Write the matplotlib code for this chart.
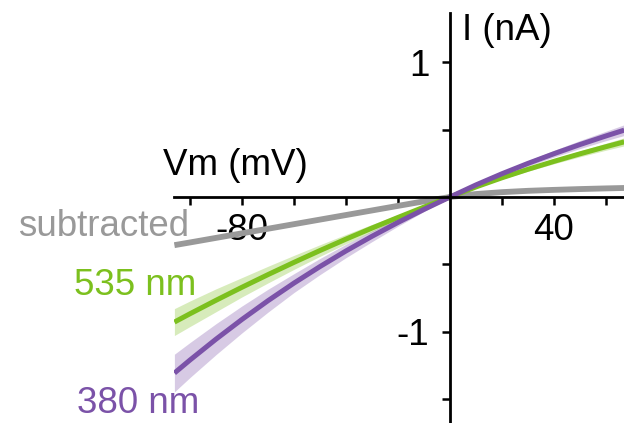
import matplotlib
matplotlib.use('Agg')
import matplotlib.pyplot as plt
import numpy as np

plt.rcParams['font.family'] = ['Liberation Sans', 'DejaVu Sans']

# --- dados ---
vm = [-106, -100, -90, -80, -70, -60, -50, -40, -30, -20, -10, 0,
      10, 20, 30, 40, 50, 60, 67]

i_380 = [-1.309, -1.212, -1.057, -0.910, -0.771, -0.640, -0.517, -0.401, -0.292, -0.189, -0.092, 0.0,
         0.090, 0.173, 0.250, 0.322, 0.390, 0.454, 0.497]
sem_380 = [0.14, 0.13, 0.115, 0.10, 0.085, 0.07, 0.06, 0.05, 0.04, 0.028, 0.016, 0.005,
           0.01, 0.015, 0.02, 0.025, 0.03, 0.035, 0.04]

i_535 = [-0.930, -0.868, -0.768, -0.671, -0.577, -0.486, -0.398, -0.313, -0.231, -0.152, -0.075, 0.0,
         0.075, 0.143, 0.206, 0.265, 0.321, 0.374, 0.410]
sem_535 = [0.10, 0.095, 0.085, 0.072, 0.062, 0.052, 0.043, 0.035, 0.027, 0.02, 0.012, 0.005,
           0.008, 0.01, 0.014, 0.018, 0.022, 0.026, 0.03]

i_sub = [-0.358, -0.338, -0.304, -0.270, -0.236, -0.202, -0.168, -0.134, -0.100, -0.066, -0.032, 0.0,
         0.022, 0.036, 0.046, 0.053, 0.059, 0.064, 0.067]

xticks = [-100, -80, -60, -40, -20, 20, 40, 60]
xticklabels = ['', '-80', '', '', '', '', '40', '']
yticks = [-1.5, -1, -0.5, 0.5, 1]
yticklabels = ['', '-1', '', '', '1']

VERDE = '#7cc01e'
ROXO = '#7b52a8'
CINZA = '#999999'
FS = 26.5

W, H = 624, 423
fig = plt.figure(figsize=(W / 100, H / 100), dpi=100)
ax = fig.add_axes([174 / W, 0, 450 / W, 1 - 13 / H])

px_mv = 20 / 52.0      # mV por pixel
px_na = 1 / 134.5      # nA por pixel
ax.set_xlim((174 - 450) * px_mv, (624 - 450) * px_mv)
ax.set_ylim((197 - 423) * px_na, (197 - 13) * px_na)

v = np.array(vm)
for i, s, c in [(i_535, sem_535, VERDE), (i_380, sem_380, ROXO)]:
    i = np.array(i); s = np.array(s)
    ax.fill_between(v, i - s, i + s, color=c, alpha=0.3, lw=0)

ax.plot(vm, i_sub, color=CINZA, lw=4.2, solid_capstyle='butt')
ax.plot(vm, i_535, color=VERDE, lw=3.6, solid_capstyle='butt')
ax.plot(vm, i_380, color=ROXO, lw=3.6, solid_capstyle='butt')

# eixos cruzando na origem
for lado in ['top', 'right']:
    ax.spines[lado].set_visible(False)
ax.spines['left'].set_position(('data', 0))
ax.spines['bottom'].set_position(('data', 0))
for lado in ['left', 'bottom']:
    ax.spines[lado].set_linewidth(2.0)

ax.set_xticks(xticks)
ax.set_xticklabels(xticklabels)
ax.set_yticks(yticks)
ax.set_yticklabels(yticklabels)
ax.tick_params(axis='both', direction='out', length=5.8, width=1.8, labelsize=FS)
ax.tick_params(axis='x', pad=6)
ax.tick_params(axis='y', pad=9)
ax.patch.set_visible(False)

# rótulos
fig.text(163 / W, 1 - 175 / H, 'Vm (mV)', fontsize=FS, ha='left', va='baseline')
fig.text(462 / W, 1 - 40 / H, 'I (nA)', fontsize=FS, ha='left', va='baseline')
fig.text(18 / W, 1 - 236 / H, 'subtracted', fontsize=FS, ha='left', va='baseline', color=CINZA)
fig.text(74 / W, 1 - 295 / H, '535 nm', fontsize=FS, ha='left', va='baseline', color=VERDE)
fig.text(77 / W, 1 - 413 / H, '380 nm', fontsize=FS, ha='left', va='baseline', color=ROXO)

fig.savefig('out.png', dpi=100)
